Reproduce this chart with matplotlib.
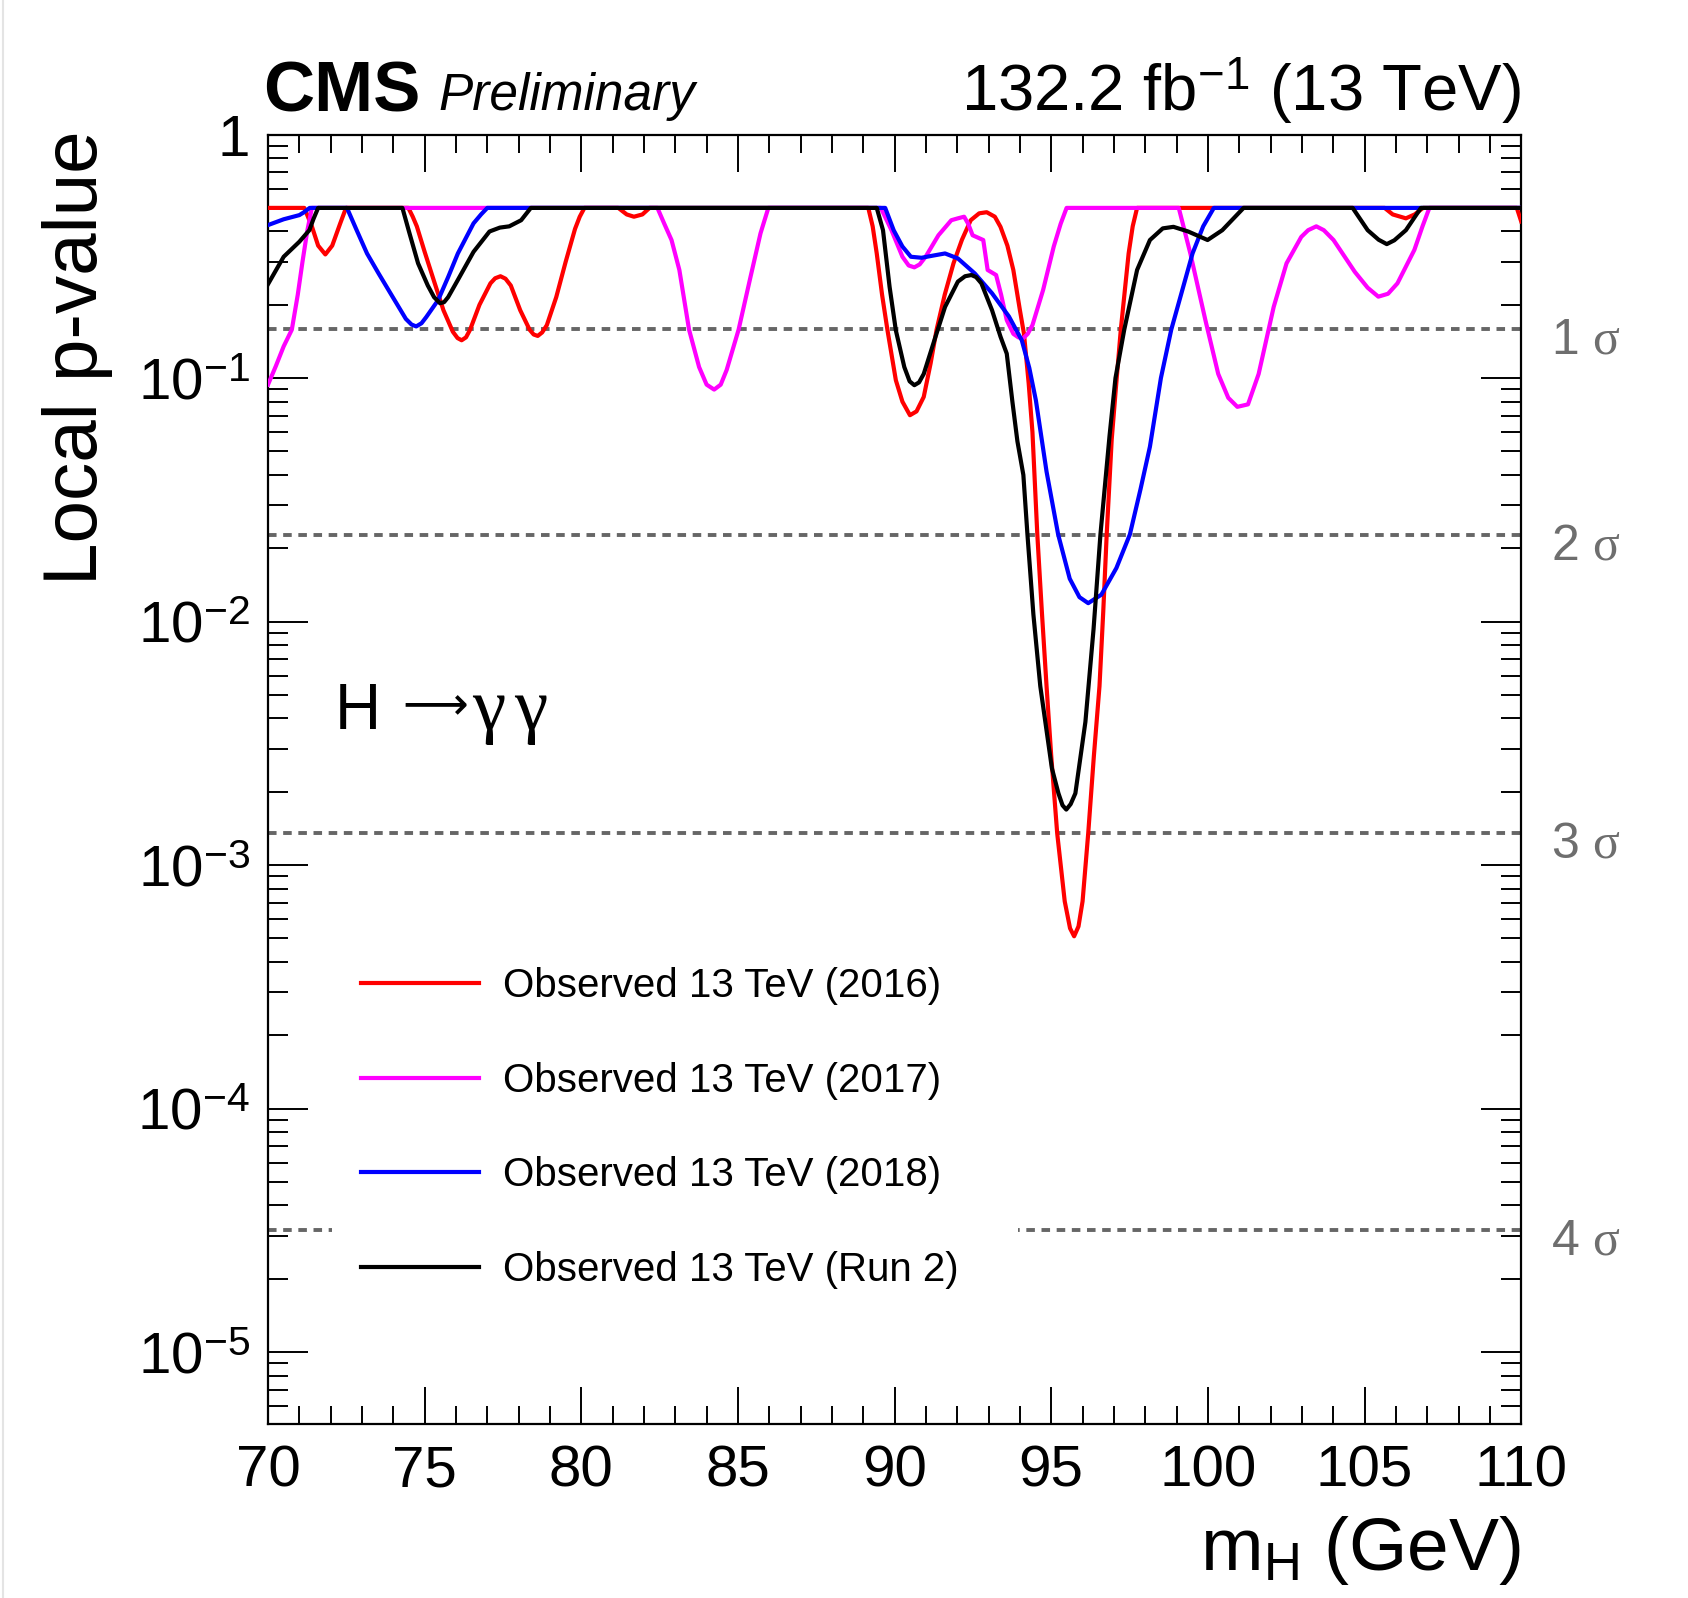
"""
Local p-value scan, H -> gamma gamma (CMS style)
"""

import numpy as np
import matplotlib
matplotlib.use("Agg")
import matplotlib.pyplot as plt
from matplotlib.ticker import MultipleLocator, LogLocator, NullFormatter
from matplotlib.lines import Line2D

# Fonts: Helvetica-like text, serif greek letters in math
plt.rcParams['font.family'] = ['Liberation Sans', 'DejaVu Sans']
plt.rcParams['mathtext.fontset'] = 'custom'
plt.rcParams['mathtext.rm'] = 'Liberation Sans'
plt.rcParams['mathtext.it'] = 'Liberation Serif'
plt.rcParams['mathtext.bf'] = 'Liberation Sans:bold'

# Data: (m_H [GeV], local p-value)
obs_2016 = [
    (70.0, 0.5), (71.16, 0.5), (71.4, 0.42), (71.6, 0.35), (71.83, 0.322), (72.05, 0.35),
    (72.3, 0.43), (72.49, 0.5), (74.48, 0.5), (74.62, 0.46), (74.75, 0.42), (75.0, 0.33),
    (75.3, 0.25), (75.6, 0.19), (75.9, 0.155), (76.05, 0.146), (76.18, 0.143), (76.32, 0.147),
    (76.45, 0.158), (76.75, 0.2), (77.1, 0.245), (77.25, 0.257), (77.42, 0.262), (77.58, 0.256),
    (77.75, 0.24), (78.05, 0.19), (78.35, 0.158), (78.48, 0.151), (78.61, 0.149), (78.75, 0.154),
    (78.9, 0.165), (79.2, 0.215), (79.5, 0.3), (79.8, 0.41), (79.95, 0.46), (80.1, 0.5),
    (81.18, 0.5), (81.45, 0.47), (81.68, 0.46), (81.95, 0.47), (82.18, 0.5), (89.16, 0.5),
    (89.3, 0.42), (89.43, 0.325), (89.6, 0.22), (89.77, 0.158), (90.04, 0.098), (90.25, 0.08),
    (90.49, 0.0704), (90.7, 0.073), (90.93, 0.0837), (91.15, 0.115), (91.34, 0.158), (91.6, 0.22),
    (91.88, 0.296), (92.15, 0.37), (92.43, 0.445), (92.7, 0.475), (92.94, 0.48), (93.2, 0.46),
    (93.38, 0.418), (93.6, 0.35), (93.79, 0.278), (94.0, 0.19), (94.13, 0.152), (94.28, 0.095),
    (94.4, 0.06), (94.555, 0.0228), (94.7, 0.011), (94.85, 0.00543), (95.0, 0.0028),
    (95.19, 0.00135), (95.43, 7.1e-4), (95.6, 5.5e-4), (95.73, 5.1e-4), (95.87, 5.6e-4),
    (96.0, 7.1e-4), (96.18, 0.00135), (96.36, 0.0028), (96.54, 0.00543), (96.66, 0.011),
    (96.77, 0.0228), (96.93, 0.056), (97.06, 0.09), (97.22, 0.158), (97.47, 0.325), (97.6, 0.42),
    (97.74, 0.5), (105.64, 0.5), (105.9, 0.47), (106.32, 0.453), (106.6, 0.47), (106.87, 0.5),
    (109.86, 0.5), (110.0, 0.44),
]

obs_2017 = [
    (70.0, 0.094), (70.25, 0.112), (70.5, 0.135), (70.76, 0.158), (70.95, 0.22), (71.1, 0.3),
    (71.25, 0.4), (71.4, 0.5), (82.43, 0.5), (82.65, 0.43), (82.88, 0.369), (83.13, 0.278),
    (83.44, 0.158), (83.76, 0.111), (84.0, 0.094), (84.24, 0.0897), (84.45, 0.094), (84.64, 0.108),
    (85.02, 0.158), (85.4, 0.26), (85.72, 0.393), (85.97, 0.5), (89.56, 0.5), (89.9, 0.405),
    (90.25, 0.315), (90.45, 0.29), (90.63, 0.285), (90.8, 0.293), (90.99, 0.315), (91.4, 0.386),
    (91.81, 0.445), (92.02, 0.453), (92.22, 0.46), (92.35, 0.43), (92.49, 0.386), (92.83, 0.369),
    (92.97, 0.278), (93.24, 0.265), (93.4, 0.22), (93.58, 0.173), (93.79, 0.152), (93.95, 0.147),
    (94.1, 0.1455), (94.25, 0.152), (94.4, 0.165), (94.74, 0.23), (95.08, 0.347), (95.3, 0.43),
    (95.49, 0.5), (99.07, 0.5), (99.44, 0.325), (99.92, 0.173), (100.33, 0.104), (100.65, 0.083),
    (100.94, 0.0762), (101.28, 0.078), (101.62, 0.104), (102.1, 0.196), (102.51, 0.296),
    (102.98, 0.38), (103.2, 0.405), (103.46, 0.42), (103.7, 0.405), (104.01, 0.369),
    (104.69, 0.273), (105.1, 0.235), (105.44, 0.216), (105.75, 0.222), (106.05, 0.245),
    (106.59, 0.336), (106.85, 0.42), (107.07, 0.5), (110.0, 0.5),
]

obs_2018 = [
    (70.0, 0.425), (70.5, 0.449), (71.0, 0.467), (71.15, 0.48), (71.33, 0.5), (72.52, 0.5),
    (72.83, 0.405), (73.16, 0.325), (73.53, 0.269), (74.04, 0.209), (74.4, 0.175), (74.58, 0.166),
    (74.73, 0.163), (74.9, 0.168), (75.05, 0.178), (75.43, 0.209), (75.75, 0.26), (76.06, 0.325),
    (76.56, 0.432), (76.8, 0.47), (77.0, 0.5), (89.7, 0.5), (89.97, 0.405), (90.25, 0.347),
    (90.52, 0.315), (90.86, 0.312), (91.2, 0.318), (91.61, 0.325), (92.02, 0.31), (92.56, 0.269),
    (93.11, 0.223), (93.65, 0.179), (94.06, 0.143), (94.3, 0.11), (94.51, 0.081), (94.85, 0.0413),
    (95.22, 0.0228), (95.59, 0.015), (95.9, 0.0126), (96.18, 0.0119), (96.6, 0.0129),
    (97.08, 0.0166), (97.51, 0.0228), (97.85, 0.035), (98.15, 0.0523), (98.5, 0.1), (98.83, 0.158),
    (99.51, 0.325), (99.85, 0.42), (100.19, 0.5), (110.0, 0.5),
]

obs_run2 = [
    (70.0, 0.243), (70.5, 0.315), (71.0, 0.363), (71.32, 0.405), (71.45, 0.45), (71.6, 0.5),
    (74.29, 0.5), (74.5, 0.4), (74.79, 0.296), (75.1, 0.24), (75.3, 0.215), (75.49, 0.203),
    (75.62, 0.205), (75.75, 0.215), (76.06, 0.253), (76.56, 0.33), (77.07, 0.4), (77.4, 0.415),
    (77.7, 0.42), (78.08, 0.445), (78.39, 0.5), (89.43, 0.5), (89.63, 0.405), (89.84, 0.237),
    (90.04, 0.157), (90.31, 0.111), (90.48, 0.097), (90.63, 0.0935), (90.78, 0.096), (90.93, 0.104),
    (91.27, 0.143), (91.61, 0.196), (92.02, 0.249), (92.25, 0.262), (92.45, 0.265), (92.6, 0.26),
    (92.77, 0.245), (93.11, 0.19), (93.38, 0.148), (93.58, 0.126), (93.76, 0.08), (93.92, 0.055),
    (94.11, 0.04), (94.24, 0.0228), (94.43, 0.0107), (94.65, 0.00543), (95.02, 0.0025),
    (95.23, 0.00197), (95.36, 0.00176), (95.48, 0.00169), (95.62, 0.00178), (95.77, 0.00197),
    (96.09, 0.00387), (96.35, 0.0093), (96.57, 0.0228), (96.86, 0.0578), (97.05, 0.1),
    (97.33, 0.158), (97.74, 0.278), (98.15, 0.369), (98.56, 0.412), (98.9, 0.418), (99.37, 0.4),
    (99.99, 0.369), (100.46, 0.405), (100.8, 0.45), (101.14, 0.5), (104.62, 0.5), (105.1, 0.405),
    (105.45, 0.37), (105.71, 0.355), (105.95, 0.368), (106.32, 0.405), (106.8, 0.5), (110.0, 0.5),
]

series = [obs_2016, obs_2017, obs_2018, obs_run2]
series_colors = ['#ff0000', '#ff00ff', '#0000ff', '#000000']
legend_labels = [
    'Observed 13 TeV (2016)',
    'Observed 13 TeV (2017)',
    'Observed 13 TeV (2018)',
    'Observed 13 TeV (Run 2)',
]

# Significance reference lines
sigma_labels = ['1 $\\sigma$', '2 $\\sigma$', '3 $\\sigma$', '4 $\\sigma$']
sigma_pvalues = [0.1587, 0.02275, 0.00135, 3.167e-5]

# Axis ticks
ytick_values = [1e-5, 1e-4, 1e-3, 1e-2, 1e-1, 1.0]
ytick_labels = ['$10^{-5}$', '$10^{-4}$', '$10^{-3}$', '$10^{-2}$', '$10^{-1}$', '1']

W, H = 1688, 1598
fig = plt.figure(figsize=(W / 100, H / 100), dpi=100)
ax = fig.add_axes([0.15877, 0.10870, 0.74241, 0.80707])


def fx(px):
    # pixel column -> figure fraction
    return px / W


def fy(py):
    # pixel row (from top) -> figure fraction
    return 1 - py / H


# Dashed sigma lines under the curves
for p in sigma_pvalues:
    ax.axhline(p, color='#666666', lw=2.8, dashes=(2.2, 1.7), zorder=1)

handles = []
for data, col in zip(series, series_colors):
    xy = np.array(data)
    line, = ax.plot(xy[:, 0], xy[:, 1], color=col, lw=3.0, zorder=3,
                    solid_joinstyle='round')
    handles.append(line)

ax.set_yscale('log')
ax.set_xlim(70, 110)
ax.set_ylim(5.05e-6, 1.0)

ax.xaxis.set_major_locator(MultipleLocator(5))
ax.xaxis.set_minor_locator(MultipleLocator(1))
ax.set_yticks(ytick_values, ytick_labels)
ax.yaxis.set_minor_locator(LogLocator(base=10, subs=np.arange(2, 10) * 1.0, numticks=20))
ax.yaxis.set_minor_formatter(NullFormatter())

ax.tick_params(which='both', direction='in', top=True, right=True, width=1.4, color='black')
ax.tick_params(axis='x', which='major', length=26.5, pad=14.5, labelsize=42)
ax.tick_params(axis='x', which='minor', length=13)
ax.tick_params(axis='y', which='major', length=29, pad=13, labelsize=42)
ax.tick_params(axis='y', which='minor', length=14.5)
for sp in ax.spines.values():
    sp.set_linewidth(1.6)

# Sigma labels outside on the right
for lab, p in zip(sigma_labels, sigma_pvalues):
    ax.annotate(lab, xy=(1.0, p), xycoords=('axes fraction', 'data'),
                xytext=(21.5, -17.6), textcoords='offset points',
                ha='left', va='baseline', fontsize=36, color='#6e6e6e',
                annotation_clip=False)

# Legend (white box, no border, covers the 4 sigma line)
leg = ax.legend(handles, legend_labels, loc='upper left', mode='expand',
                bbox_to_anchor=(0.0508, 0.0, 0.5476, 0.377), borderaxespad=0,
                fontsize=29, handlelength=2.92, handletextpad=0.6,
                labelspacing=1.4, borderpad=0.73, frameon=True, fancybox=False,
                edgecolor='none', facecolor='white', framealpha=1.0)
leg.set_zorder(5)

# Process label: H, long arrow, serif gammas
fig.text(fx(335), fy(729), 'H', fontsize=46, va='baseline')
fig.text(fx(402), fy(719), '\u27f6', fontsize=33, va='baseline', family=['DejaVu Sans'])
fig.text(fx(472), fy(729), '\u03b3', fontsize=54, va='baseline',
         family=['Liberation Serif', 'DejaVu Serif'])
fig.text(fx(514), fy(729), '\u03b3', fontsize=54, va='baseline',
         family=['Liberation Serif', 'DejaVu Serif'])

# Header texts
fig.text(fx(263.5), fy(111.7), 'CMS', fontsize=51, fontweight='bold', va='baseline')
fig.text(fx(438), fy(110), 'Preliminary', fontsize=37, style='italic', va='baseline')
fig.text(fx(1521), fy(111), '132.2 fb$^{-1}$ (13 TeV)', fontsize=47,
         ha='right', va='baseline')

# Axis titles
fig.text(fx(78), fy(130), 'Local p-value', fontsize=55, rotation=90,
         ha='center', va='top')
fig.text(fx(1521), fy(1570), 'm$_{\\mathrm{H}}$ (GeV)', fontsize=54,
         ha='right', va='baseline')

# faint border on the left edge of the original image
fig.add_artist(Line2D([0.0016, 0.0016], [0, 1], transform=fig.transFigure,
                      color='#e4e4e4', lw=1.5))

fig.savefig('out.png', dpi=100)
